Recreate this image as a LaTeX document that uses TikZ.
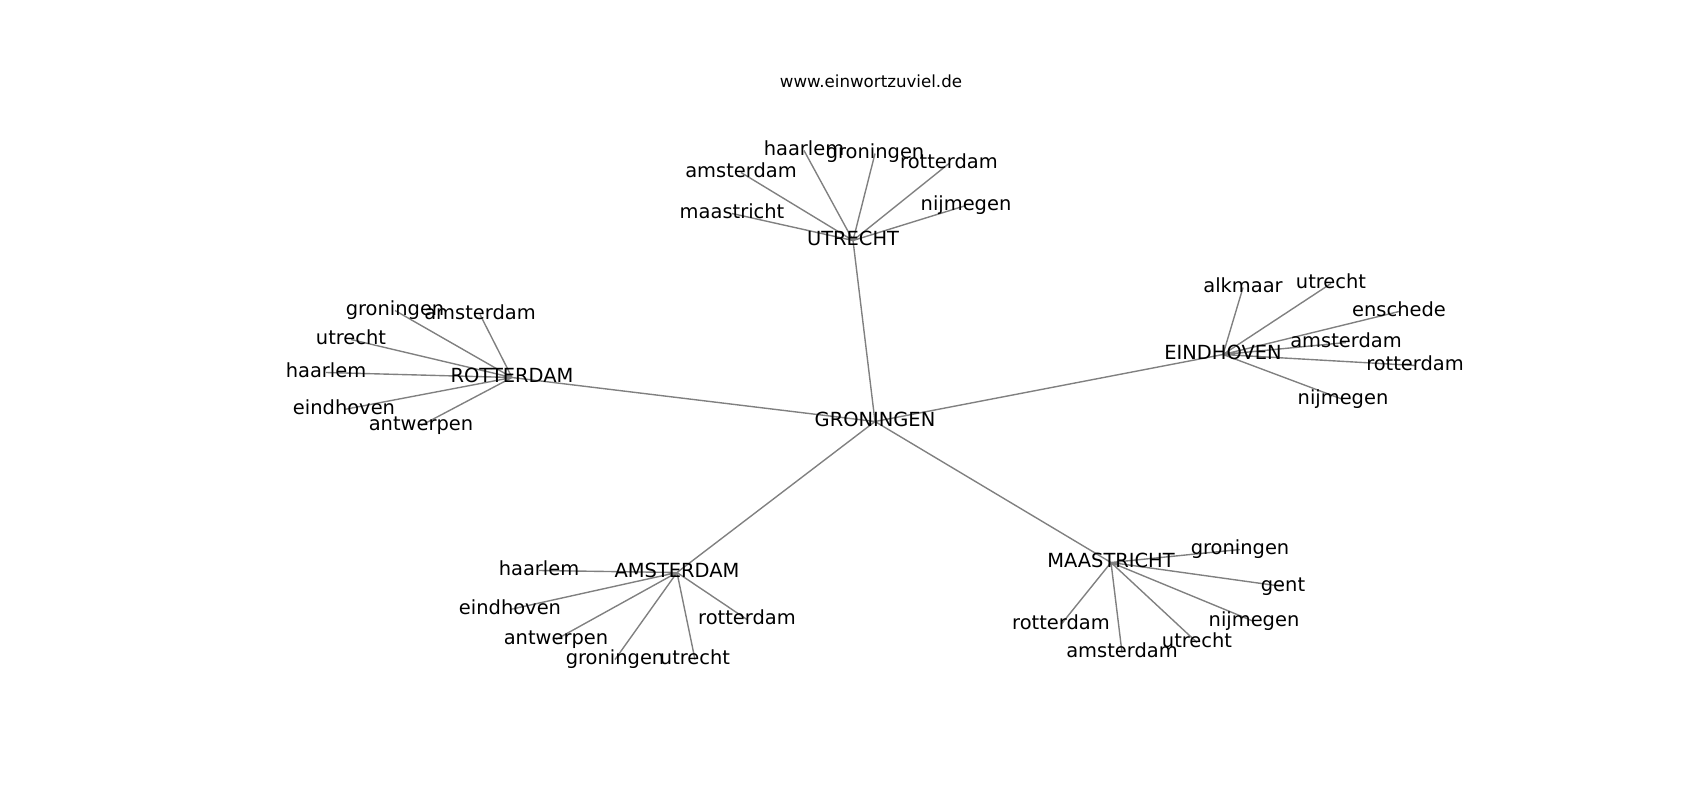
\documentclass[tikz,border=0pt]{standalone}
\usepackage{fontspec}
\setmainfont{DejaVu Sans}
\usepackage{tikz}
\usetikzlibrary{backgrounds}

\begin{document}
\begin{tikzpicture}[x=0.72pt, y=-0.72pt,
        city/.style={font=\fontsize{14}{17}\selectfont, inner sep=0pt, text height=10.6pt, text depth=2.9pt},
        banner/.style={font=\fontsize{12}{14}\selectfont, inner sep=0pt, text height=9.1pt, text depth=2.5pt},
        link/.style={draw=gray, line width=1pt}]
                    \useasboundingbox (0, -1.5) rectangle (1700, 798.5);

                    \node[banner] (site) at (871, 81) {www.einwortzuviel.de};

                    \node[city] (gro) at (875, 420) {GRONINGEN};
                    \node[city] (utr) at (853, 239) {UTRECHT};
                    \node[city] (rot) at (512, 376) {ROTTERDAM};
                    \node[city] (ein) at (1223, 353) {EINDHOVEN};
                    \node[city] (ams) at (677, 571) {AMSTERDAM};
                    \node[city] (maa) at (1111, 561) {MAASTRICHT};

                    \node[city] (utrhaa) at (804, 149) {haarlem};
                    \node[city] (utrgro) at (875, 152) {groningen};
                    \node[city] (utrams) at (741, 171) {amsterdam};
                    \node[city] (utrrot) at (949, 162) {rotterdam};
                    \node[city] (utrmaa) at (732, 212) {maastricht};
                    \node[city] (utrnij) at (966, 204) {nijmegen};

                    \node[city] (rotgro) at (395, 309) {groningen};
                    \node[city] (rotams) at (480, 313) {amsterdam};
                    \node[city] (rotutr) at (351, 338) {utrecht};
                    \node[city] (rothaa) at (326, 371) {haarlem};
                    \node[city] (rotein) at (344, 408) {eindhoven};
                    \node[city] (rotant) at (421, 424) {antwerpen};

                    \node[city] (einalk) at (1243, 286) {alkmaar};
                    \node[city] (einutr) at (1331, 282) {utrecht};
                    \node[city] (einens) at (1399, 310) {enschede};
                    \node[city] (einams) at (1346, 341) {amsterdam};
                    \node[city] (einrot) at (1415, 364) {rotterdam};
                    \node[city] (einnij) at (1343, 398) {nijmegen};

                    \node[city] (amshaa) at (539, 569) {haarlem};
                    \node[city] (amsein) at (510, 608) {eindhoven};
                    \node[city] (amsant) at (556, 638) {antwerpen};
                    \node[city] (amsgro) at (615, 658) {groningen};
                    \node[city] (amsutr) at (695, 658) {utrecht};
                    \node[city] (amsrot) at (747, 618) {rotterdam};

                    \node[city] (maagro) at (1240, 548) {groningen};
                    \node[city] (maagen) at (1283, 585) {gent};
                    \node[city] (maanij) at (1254, 620) {nijmegen};
                    \node[city] (maautr) at (1197, 641) {utrecht};
                    \node[city] (maaams) at (1122, 651) {amsterdam};
                    \node[city] (maarot) at (1061, 623) {rotterdam};

                    \begin{scope}[on background layer]
                    \draw[link]
                    (gro.center) -- (utr.center)
                    (gro.center) -- (rot.center)
                    (gro.center) -- (ein.center)
                    (gro.center) -- (ams.center)
                    (gro.center) -- (maa.center)
                    (utr.center) -- (utrhaa.center)
                    (utr.center) -- (utrgro.center)
                    (utr.center) -- (utrams.center)
                    (utr.center) -- (utrrot.center)
                    (utr.center) -- (utrmaa.center)
                    (utr.center) -- (utrnij.center)
                    (rot.center) -- (rotgro.center)
                    (rot.center) -- (rotams.center)
                    (rot.center) -- (rotutr.center)
                    (rot.center) -- (rothaa.center)
                    (rot.center) -- (rotein.center)
                    (rot.center) -- (rotant.center)
                    (ein.center) -- (einalk.center)
                    (ein.center) -- (einutr.center)
                    (ein.center) -- (einens.center)
                    (ein.center) -- (einams.center)
                    (ein.center) -- (einrot.center)
                    (ein.center) -- (einnij.center)
                    (ams.center) -- (amshaa.center)
                    (ams.center) -- (amsein.center)
                    (ams.center) -- (amsant.center)
                    (ams.center) -- (amsgro.center)
                    (ams.center) -- (amsutr.center)
                    (ams.center) -- (amsrot.center)
                    (maa.center) -- (maagro.center)
                    (maa.center) -- (maagen.center)
                    (maa.center) -- (maanij.center)
                    (maa.center) -- (maautr.center)
                    (maa.center) -- (maaams.center)
                    (maa.center) -- (maarot.center);
                    \end{scope}
                \end{tikzpicture}
\end{document}
